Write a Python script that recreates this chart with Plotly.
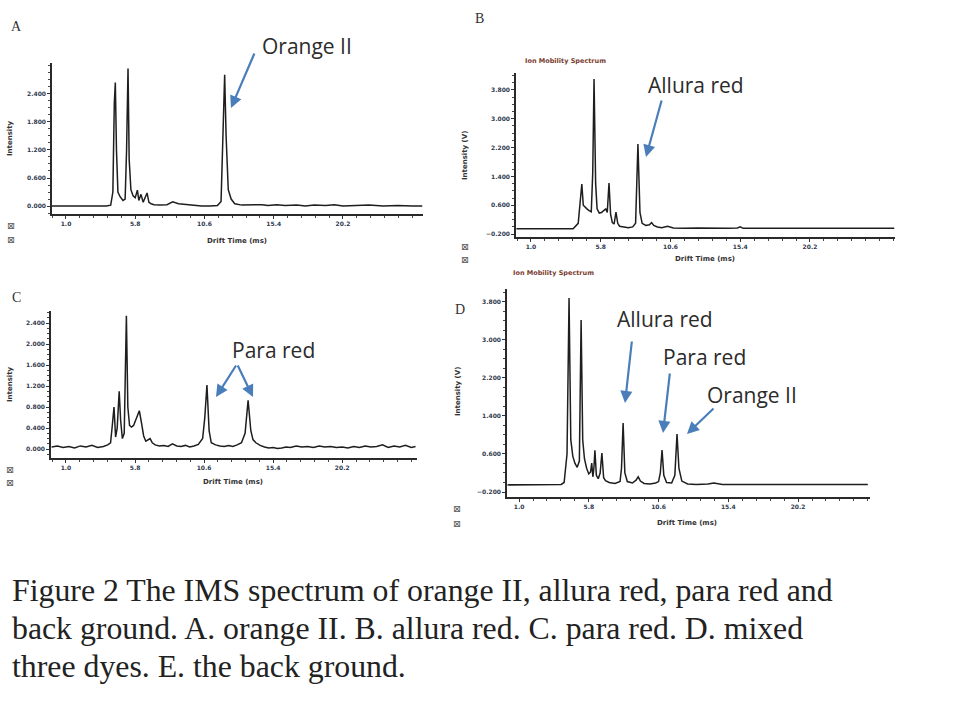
import plotly.graph_objects as go

W, H = 960, 720

# ---------------- data ----------------
a_x = [0.0, 1.0, 2.0, 3.0, 3.8, 4.1, 4.25, 4.35, 4.42, 4.5, 4.6, 4.75, 4.95, 5.1, 5.2, 5.3, 5.38, 5.5,
       5.65, 5.8, 5.95, 6.05, 6.2, 6.35, 6.5, 6.62, 6.75, 6.9, 7.1, 7.5, 8.0, 8.4, 8.8, 9.3, 9.8,
       10.4, 11.0, 11.5, 11.75, 11.88, 12.0, 12.1, 12.25, 12.45, 12.7, 13.2, 14.0, 14.6, 15.0,
       15.6, 16.2, 17.0, 17.6, 18.2, 19.0, 19.6, 20.2, 21.0, 22.0, 23.0, 24.0, 25.0, 25.7]
a_y = [0.0, 0.0, 0.0, 0.0, 0.0, 0.02, 0.3, 2.2, 2.64, 1.2, 0.3, 0.2, 0.12, 0.15, 1.2, 2.94, 1.0, 0.35,
       0.22, 0.18, 0.34, 0.12, 0.25, 0.08, 0.2, 0.28, 0.08, 0.05, 0.03, 0.02, 0.03, 0.09, 0.05, 0.03, 0.01,
       0.0, 0.0, 0.01, 0.1, 1.6, 2.81, 1.5, 0.35, 0.15, 0.05, 0.02, 0.02, 0.03, 0.01,
       0.03, 0.01, 0.02, 0.0, 0.02, 0.01, 0.03, 0.0, 0.01, 0.02, 0.0, 0.01, 0.0, 0.0]

b_x = [0.0, 1.0, 2.0, 3.0, 3.9, 4.25, 4.38, 4.5, 4.6, 4.7, 4.85, 5.0, 5.15, 5.25, 5.34, 5.45, 5.55, 5.7,
       5.85, 6.0, 6.15, 6.25, 6.37, 6.48, 6.6, 6.72, 6.85, 6.97, 7.1, 7.4, 7.7, 8.0, 8.2, 8.36, 8.5,
       8.65, 8.9, 9.15, 9.3, 9.45, 9.7, 10.0, 10.4, 10.8, 11.5, 12.5, 13.5, 14.5, 15.2, 15.4, 15.6,
       16.5, 17.5, 18.5, 19.5, 20.5, 21.5, 22.5, 23.5, 24.5, 25.5, 26.0]
b_y = [-0.05, -0.05, -0.05, -0.05, -0.05, 0.1, 0.7, 1.19, 0.6, 0.55, 0.5, 0.45, 0.42, 1.5, 4.1, 1.2, 0.5, 0.38,
       0.4, 0.45, 0.5, 0.4, 1.22, 0.35, 0.12, 0.08, 0.41, 0.1, 0.02, 0.0, -0.02, 0.0, 0.1, 2.3, 0.4,
       0.1, 0.04, 0.06, 0.12, 0.04, 0.0, -0.02, 0.02, -0.03, -0.04, -0.03, -0.04, -0.04, -0.03, 0.0, -0.04,
       -0.04, -0.04, -0.04, -0.04, -0.04, -0.04, -0.04, -0.04, -0.04, -0.04, -0.04]

c_x = [0.0, 0.4, 0.8, 1.2, 1.6, 2.0, 2.4, 2.8, 3.2, 3.6, 3.9, 4.1, 4.22, 4.34, 4.45, 4.56, 4.7, 4.8,
       4.92, 5.05, 5.2, 5.3, 5.42, 5.55, 5.7, 5.85, 6.0, 6.1, 6.25, 6.4, 6.55, 6.7, 6.85, 7.0, 7.2,
       7.5, 7.8, 8.1, 8.4, 8.7, 9.0, 9.3, 9.6, 9.9, 10.2, 10.5, 10.65, 10.8, 10.95, 11.1, 11.4, 11.7,
       12.0, 12.3, 12.6, 12.9, 13.2, 13.45, 13.66, 13.85, 14.0, 14.2, 14.5, 14.8, 15.1, 15.4, 15.7,
       16.0, 16.3, 16.6, 17.0, 17.4, 17.8, 18.2, 18.6, 19.0, 19.4, 19.8, 20.2, 20.6, 21.0, 21.4,
       21.8, 22.2, 22.6, 23.0, 23.4, 23.8, 24.2, 24.6, 25.0, 25.3]
c_y = [0.04, 0.06, 0.03, 0.05, 0.02, 0.06, 0.04, 0.07, 0.03, 0.05, 0.08, 0.12, 0.45, 0.8, 0.23, 0.4, 1.1, 0.55,
       0.2, 0.3, 2.54, 0.8, 0.45, 0.42, 0.45, 0.55, 0.65, 0.73, 0.5, 0.25, 0.15, 0.18, 0.2, 0.12, 0.08,
       0.06, 0.07, 0.05, 0.1, 0.06, 0.05, 0.07, 0.04, 0.06, 0.09, 0.2, 0.6, 1.22, 0.35, 0.12, 0.08, 0.06,
       0.05, 0.07, 0.05, 0.08, 0.12, 0.3, 0.93, 0.35, 0.18, 0.12, 0.07, 0.04, 0.02, 0.03, 0.01,
       0.02, 0.04, 0.03, 0.06, 0.04, 0.05, 0.03, 0.06, 0.04, 0.05, 0.03, 0.04, 0.02, 0.05, 0.03,
       0.06, 0.04, 0.05, 0.08, 0.03, 0.06, 0.04, 0.07, 0.03, 0.05]

d_x = [0.2, 1.0, 2.0, 3.0, 3.9, 4.1, 4.3, 4.44, 4.56, 4.7, 4.85, 5.0, 5.15, 5.27, 5.38, 5.5, 5.65, 5.8,
       5.92, 6.0, 6.08, 6.15, 6.22, 6.32, 6.45, 6.58, 6.7, 6.82, 6.95, 7.2, 7.6, 7.95, 8.05, 8.16,
       8.28, 8.45, 8.8, 9.05, 9.2, 9.35, 9.6, 10.0, 10.4, 10.6, 10.72, 10.84, 10.96, 11.15, 11.5,
       11.72, 11.87, 12.0, 12.2, 12.6, 13.2, 14.0, 14.4, 15.0, 16.0, 17.0, 18.0, 19.0, 20.0, 21.0,
       22.0, 23.0, 24.0, 25.0]
d_y = [-0.05, -0.05, -0.05, -0.05, -0.04, 0.0, 0.6, 3.88, 0.9, 0.55, 0.4, 0.32, 0.45, 3.42, 0.9, 0.5, 0.3, 0.18,
       0.22, 0.41, 0.12, 0.3, 0.68, 0.15, 0.08, 0.2, 0.62, 0.1, 0.04, 0.0, -0.02, 0.02, 0.3, 1.25,
       0.2, 0.02, -0.01, 0.05, 0.12, 0.03, -0.02, -0.03, -0.01, 0.02, 0.2, 0.68, 0.15, 0.0, -0.01,
       0.15, 1.02, 0.3, 0.03, -0.03, -0.04, -0.03, -0.01, -0.04, -0.04, -0.04, -0.04, -0.04, -0.04, -0.04,
       -0.04, -0.04, -0.04, -0.04]

x_ticks = [1.0, 5.8, 10.6, 15.4, 20.2]
x_tick_text = ["1.0", "5.8", "10.6", "15.4", "20.2"]
a_yticks = [0.0, 0.6, 1.2, 1.8, 2.4]
b_yticks = [-0.2, 0.6, 1.4, 2.2, 3.0, 3.8]
c_yticks = [0.0, 0.4, 0.8, 1.2, 1.6, 2.0, 2.4]
d_yticks = [-0.2, 0.6, 1.4, 2.2, 3.0, 3.8]

caption_lines = [
    "Figure 2 The IMS spectrum of orange II, allura red, para red and",
    "back ground. A. orange II. B. allura red. C. para red. D. mixed",
    "three dyes. E. the back ground.",
]

# ---------------- layout helpers ----------------
def px(x):
    return x / W

def py(y):
    return 1 - y / H

panels = [
    # name, data x, data y, px left, px right, px top, px bottom, xrange, yrange, yticks, ytitle
    ("A", a_x, a_y, 52, 423, 63, 214, [0.03, 25.75], [-0.17, 3.06], a_yticks, "Intensity"),
    ("B", b_x, b_y, 516, 895, 73, 237, [-0.03, 26.05], [-0.28, 4.27], b_yticks, "Intensity (V)"),
    ("C", c_x, c_y, 51, 417, 311, 458, [-0.04, 25.4], [-0.17, 2.63], c_yticks, "Intensity"),
    ("D", d_x, d_y, 507, 870, 289, 497, [0.17, 25.15], [-0.305, 4.07], d_yticks, "Intensity (V)"),
]
# pixel centres of side texts per panel: x-title (x, y), y-title (x, y), icons x, icons y list
side = {
    "A": ((237, 241), (10, 138), 11, (225, 240)),
    "B": ((705, 259), (465, 156), 465, (246, 259)),
    "C": ((233, 482), (10, 384), 10, (469, 483)),
    "D": ((687, 523), (458, 392), 457, (508, 523)),
}

fig = go.Figure()
tickfont = dict(family="DejaVu Sans", size=6, color="#2f3a4f", weight="bold")
titlefont = dict(family="DejaVu Sans", size=7, color="#333", weight="bold")
annotations = []


def text_at(x, y, text, font, **kw):
    d = dict(x=px(x), y=py(y), xref="paper", yref="paper", text=text, showarrow=False,
             xanchor="center", yanchor="middle", font=font)
    d.update(kw)
    annotations.append(d)


for i, (name, xs, ys, l, r, t, b, xr, yr, yt, ytitle) in enumerate(panels):
    n = "" if i == 0 else str(i + 1)
    fig.add_trace(go.Scatter(x=xs, y=ys, mode="lines", xaxis="x" + n, yaxis="y" + n,
                             line=dict(color="#1e1e1e", width=1.5), showlegend=False,
                             hoverinfo="skip"))
    common = dict(showline=True, linecolor="#2a2a2a", linewidth=1.6, showgrid=False,
                  zeroline=False, ticks="outside", ticklen=3, tickwidth=1.2, tickcolor="#333",
                  tickfont=tickfont, fixedrange=True)
    fig.update_layout(**{
        "xaxis" + n: dict(domain=[px(l), px(r)], anchor="y" + n, range=xr,
                          tickvals=x_ticks, ticktext=x_tick_text,
                          minor=dict(dtick=0.96, tick0=1.0, ticks="outside", ticklen=2,
                                     tickcolor="#444", tickwidth=1), **common),
        "yaxis" + n: dict(domain=[py(b), py(t)], anchor="x" + n, range=yr,
                          tickvals=yt, tickformat=".3f",
                          minor=dict(dtick=(yt[1] - yt[0]) / 4, tick0=yt[0], ticks="outside",
                                     ticklen=2, tickcolor="#444", tickwidth=1), **common),
    })
    (xtx, xty), (ytx, yty), icx, icys = side[name]
    text_at(xtx, xty, "Drift Time (ms)", titlefont)
    text_at(ytx, yty, ytitle, titlefont, textangle=-90)
    for icy in icys:
        text_at(icx, icy, "⊠", dict(family="DejaVu Sans", size=9.5, color="#555"))

# panel titles "Ion Mobility Spectrum"
for (xx, yy) in [(565, 61), (553, 273)]:
    text_at(xx, yy, "Ion Mobility Spectrum",
            dict(family="DejaVu Sans", size=6.5, color="#7a3b2e", weight="bold"))

# panel letters
for (txt, xx, yy) in [("A", 16, 27), ("B", 479, 18), ("C", 16, 297), ("D", 460, 309)]:
    text_at(xx, yy, txt, dict(family="Liberation Serif", size=14, color="#333"))

# labelled arrows
lab_font = dict(family="Open Sans", size=21, color="#2b2b2b")
blue = "#4a7ebb"
labels = [
    ("Orange II", (307, 46)),
    ("Allura red", (696, 85)),
    ("Para red", (273, 350)),
    ("Allura red", (665, 319)),
    ("Para red", (704, 357)),
    ("Orange II", (752, 395)),
]
arrows = [
    ((255, 52), (231, 108)),
    ((662, 99), (646, 157)),
    ((237, 364), (216, 397)),
    ((237, 364), (253, 397)),
    ((632, 340), (625, 403)),
    ((670, 372), (663, 433)),
    ((715, 407), (687, 434)),
]
for txt, (cx, cy) in labels:
    text_at(cx, cy, txt, lab_font)
for (tx, ty), (hx, hy) in arrows:
    annotations.append(dict(x=px(hx), y=py(hy), xref="paper", yref="paper", text="",
                            showarrow=True, ax=tx - hx, ay=ty - hy, axref="pixel", ayref="pixel",
                            arrowhead=2, arrowsize=1.1, arrowwidth=2.2, arrowcolor=blue))

# caption
for k, line in enumerate(caption_lines):
    text_at(10, 590 + k * 38, line, dict(family="Liberation Serif", size=31.8, color="#222"),
            xanchor="left")

fig.update_layout(width=W, height=H, margin=dict(l=0, r=0, t=0, b=0),
                  paper_bgcolor="white", plot_bgcolor="white",
                  annotations=annotations, showlegend=False)

fig.write_html("out.html")
